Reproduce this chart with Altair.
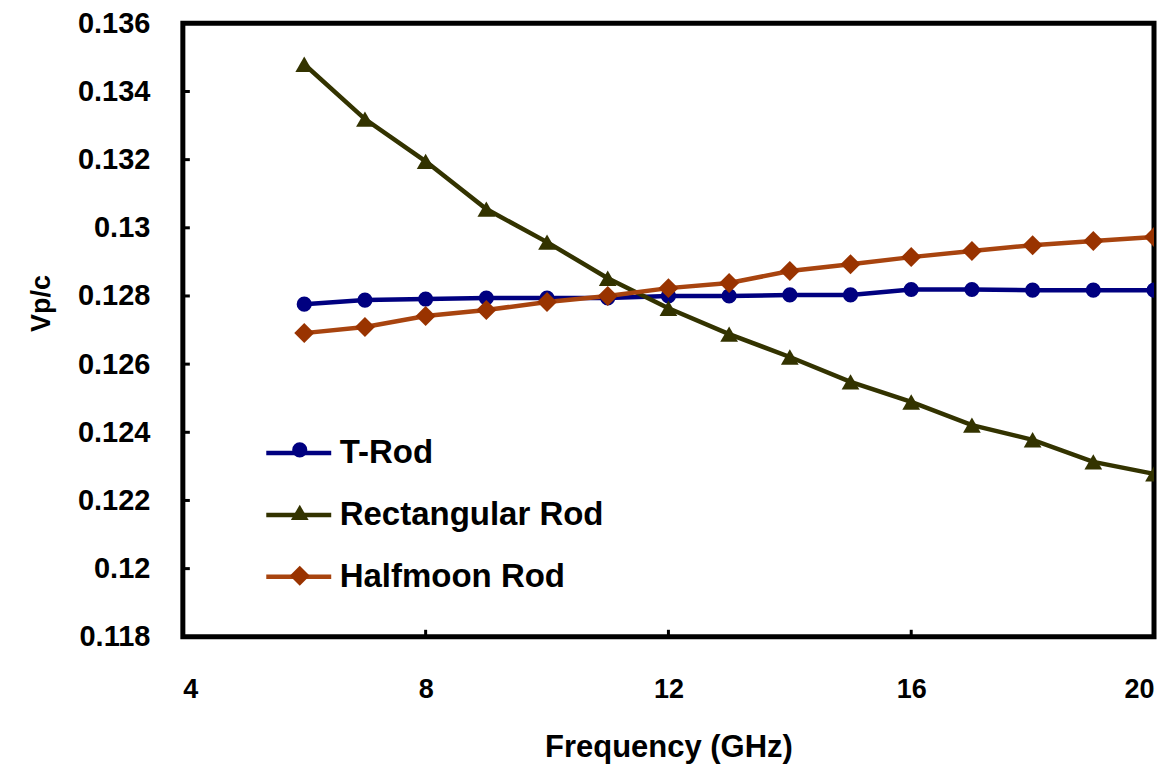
import altair as alt
import pandas as pd

# ---------------- data ----------------
freq = [6, 7, 8, 9, 10, 11, 12, 13, 14, 15, 16, 17, 18, 19, 20]
t_rod = [0.12776, 0.12788, 0.12791, 0.12794, 0.12794, 0.12794, 0.12800, 0.12800,
         0.12803, 0.12803, 0.12819, 0.12819, 0.12817, 0.12817, 0.12817]
rect_rod = [0.13480, 0.13319, 0.13195, 0.13055, 0.12958, 0.12852, 0.12764, 0.12688,
            0.12621, 0.12548, 0.12489, 0.12421, 0.12378, 0.12313, 0.12278]
halfmoon_rod = [0.12691, 0.12709, 0.12741, 0.12759, 0.12782, 0.12800, 0.12823, 0.12838,
                0.12873, 0.12893, 0.12914, 0.12932, 0.12949, 0.12961, 0.12973]
series_names = ["T-Rod", "Rectangular Rod", "Halfmoon Rod"]
x_tick_values = [4, 8, 12, 16, 20]
y_tick_values = [0.118, 0.120, 0.122, 0.124, 0.126, 0.128, 0.130, 0.132, 0.134, 0.136]

rows = []
for name, vals in zip(series_names, [t_rod, rect_rod, halfmoon_rod]):
    for f, v in zip(freq, vals):
        rows.append({"freq": f, "vpc": v, "series": name, "series_m": name})
df = pd.DataFrame(rows)

xt_df = pd.DataFrame({"xt": x_tick_values[1:-1], "ybase": [y_tick_values[0]] * 3})
yt_df = pd.DataFrame({"yt": y_tick_values[1:-1], "xbase": [x_tick_values[0]] * 8})

# ---------------- styles ----------------
line_colors = ["#000080", "#333300", "#A8440F"]
marker_colors = ["#000080", "#333300", "#993300"]
marker_shapes = ["circle", "triangle-up", "diamond"]
marker_sizes = [230, 400, 370]

W, H = 972, 614
font = "Liberation Sans"

x_scale = alt.Scale(domain=[4, 20], nice=False, zero=False)
y_scale = alt.Scale(domain=[0.118, 0.136], nice=False, zero=False)

x_main_axis = alt.Axis(
    values=x_tick_values, ticks=False, tickSize=0, domain=False, grid=False,
    labelFont=font, labelFontSize=27, labelFontWeight="bold", labelColor="black",
    labelPadding=40, title="Frequency (GHz)", titleFont=font, titleFontSize=31,
    titleFontWeight="bold", titleColor="black", titlePadding=30,
)
y_main_axis = alt.Axis(
    values=y_tick_values, format=".3~f", ticks=False, tickSize=0, domain=False, grid=False,
    labelFont=font, labelFontSize=29, labelFontWeight="bold", labelColor="black",
    labelPadding=33, title="Vp/c", titleFont=font, titleFontSize=27,
    titleFontWeight="bold", titleColor="black", titlePadding=22, titleY=280,
)

legend_lines = alt.Legend(
    title=None, orient="none", legendX=81, legendY=395, padding=0,
    labelFont=font, labelFontSize=33, labelFontWeight="bold", labelColor="black",
    labelOffset=6, labelLimit=500, symbolType="stroke", symbolSize=4225,
    symbolStrokeWidth=4.5, rowPadding=10,
)
legend_markers = alt.Legend(
    title=None, orient="none", legendX=107, legendY=419, padding=0,
    labelExpr="''", labelFontSize=1, labelOffset=0,
    symbolStrokeWidth=0, symbolOpacity=1, rowPadding=45.5,
)

base = alt.Chart(df)

lines = base.mark_line(strokeWidth=4.5, clip=True).encode(
    x=alt.X("freq:Q", scale=x_scale, axis=x_main_axis),
    y=alt.Y("vpc:Q", scale=y_scale, axis=y_main_axis),
    stroke=alt.Stroke("series:N", scale=alt.Scale(domain=series_names, range=line_colors),
                      legend=legend_lines),
)

points = base.mark_point(filled=True, opacity=1, clip=True, strokeWidth=0).encode(
    x=alt.X("freq:Q", scale=x_scale, axis=None),
    y=alt.Y("vpc:Q", scale=y_scale, axis=None),
    shape=alt.Shape("series_m:N", scale=alt.Scale(domain=series_names, range=marker_shapes),
                    legend=legend_markers),
    fill=alt.Fill("series_m:N", scale=alt.Scale(domain=series_names, range=marker_colors),
                  legend=legend_markers),
    size=alt.Size("series_m:O", scale=alt.Scale(domain=series_names, range=marker_sizes),
                  legend=legend_markers),
)

# inward tick marks starting at the frame
x_ticks_layer = alt.Chart(xt_df).mark_rule(strokeWidth=3, color="black", y2Offset=-7).encode(
    x=alt.X("xt:Q", scale=x_scale, axis=None),
    y=alt.Y("ybase:Q", scale=y_scale, axis=None),
    y2=alt.Y2("ybase"),
)
y_ticks_layer = alt.Chart(yt_df).mark_rule(strokeWidth=3, color="black", x2Offset=7).encode(
    x=alt.X("xbase:Q", scale=x_scale, axis=None),
    x2=alt.X2("xbase"),
    y=alt.Y("yt:Q", scale=y_scale, axis=None),
)

chart = alt.layer(
    lines, points, x_ticks_layer, y_ticks_layer
).resolve_axis(
    x="independent", y="independent"
).resolve_legend(
    stroke="independent", shape="independent", fill="independent", size="independent"
).properties(
    width=W, height=H,
    autosize=alt.AutoSizeParams(type="none"),
    padding={"left": 175, "top": 15, "right": 10, "bottom": 128},
    background="white",
).configure_view(stroke="black", strokeWidth=5)

chart.save("out.html", embed_options={"renderer": "svg", "actions": False})
